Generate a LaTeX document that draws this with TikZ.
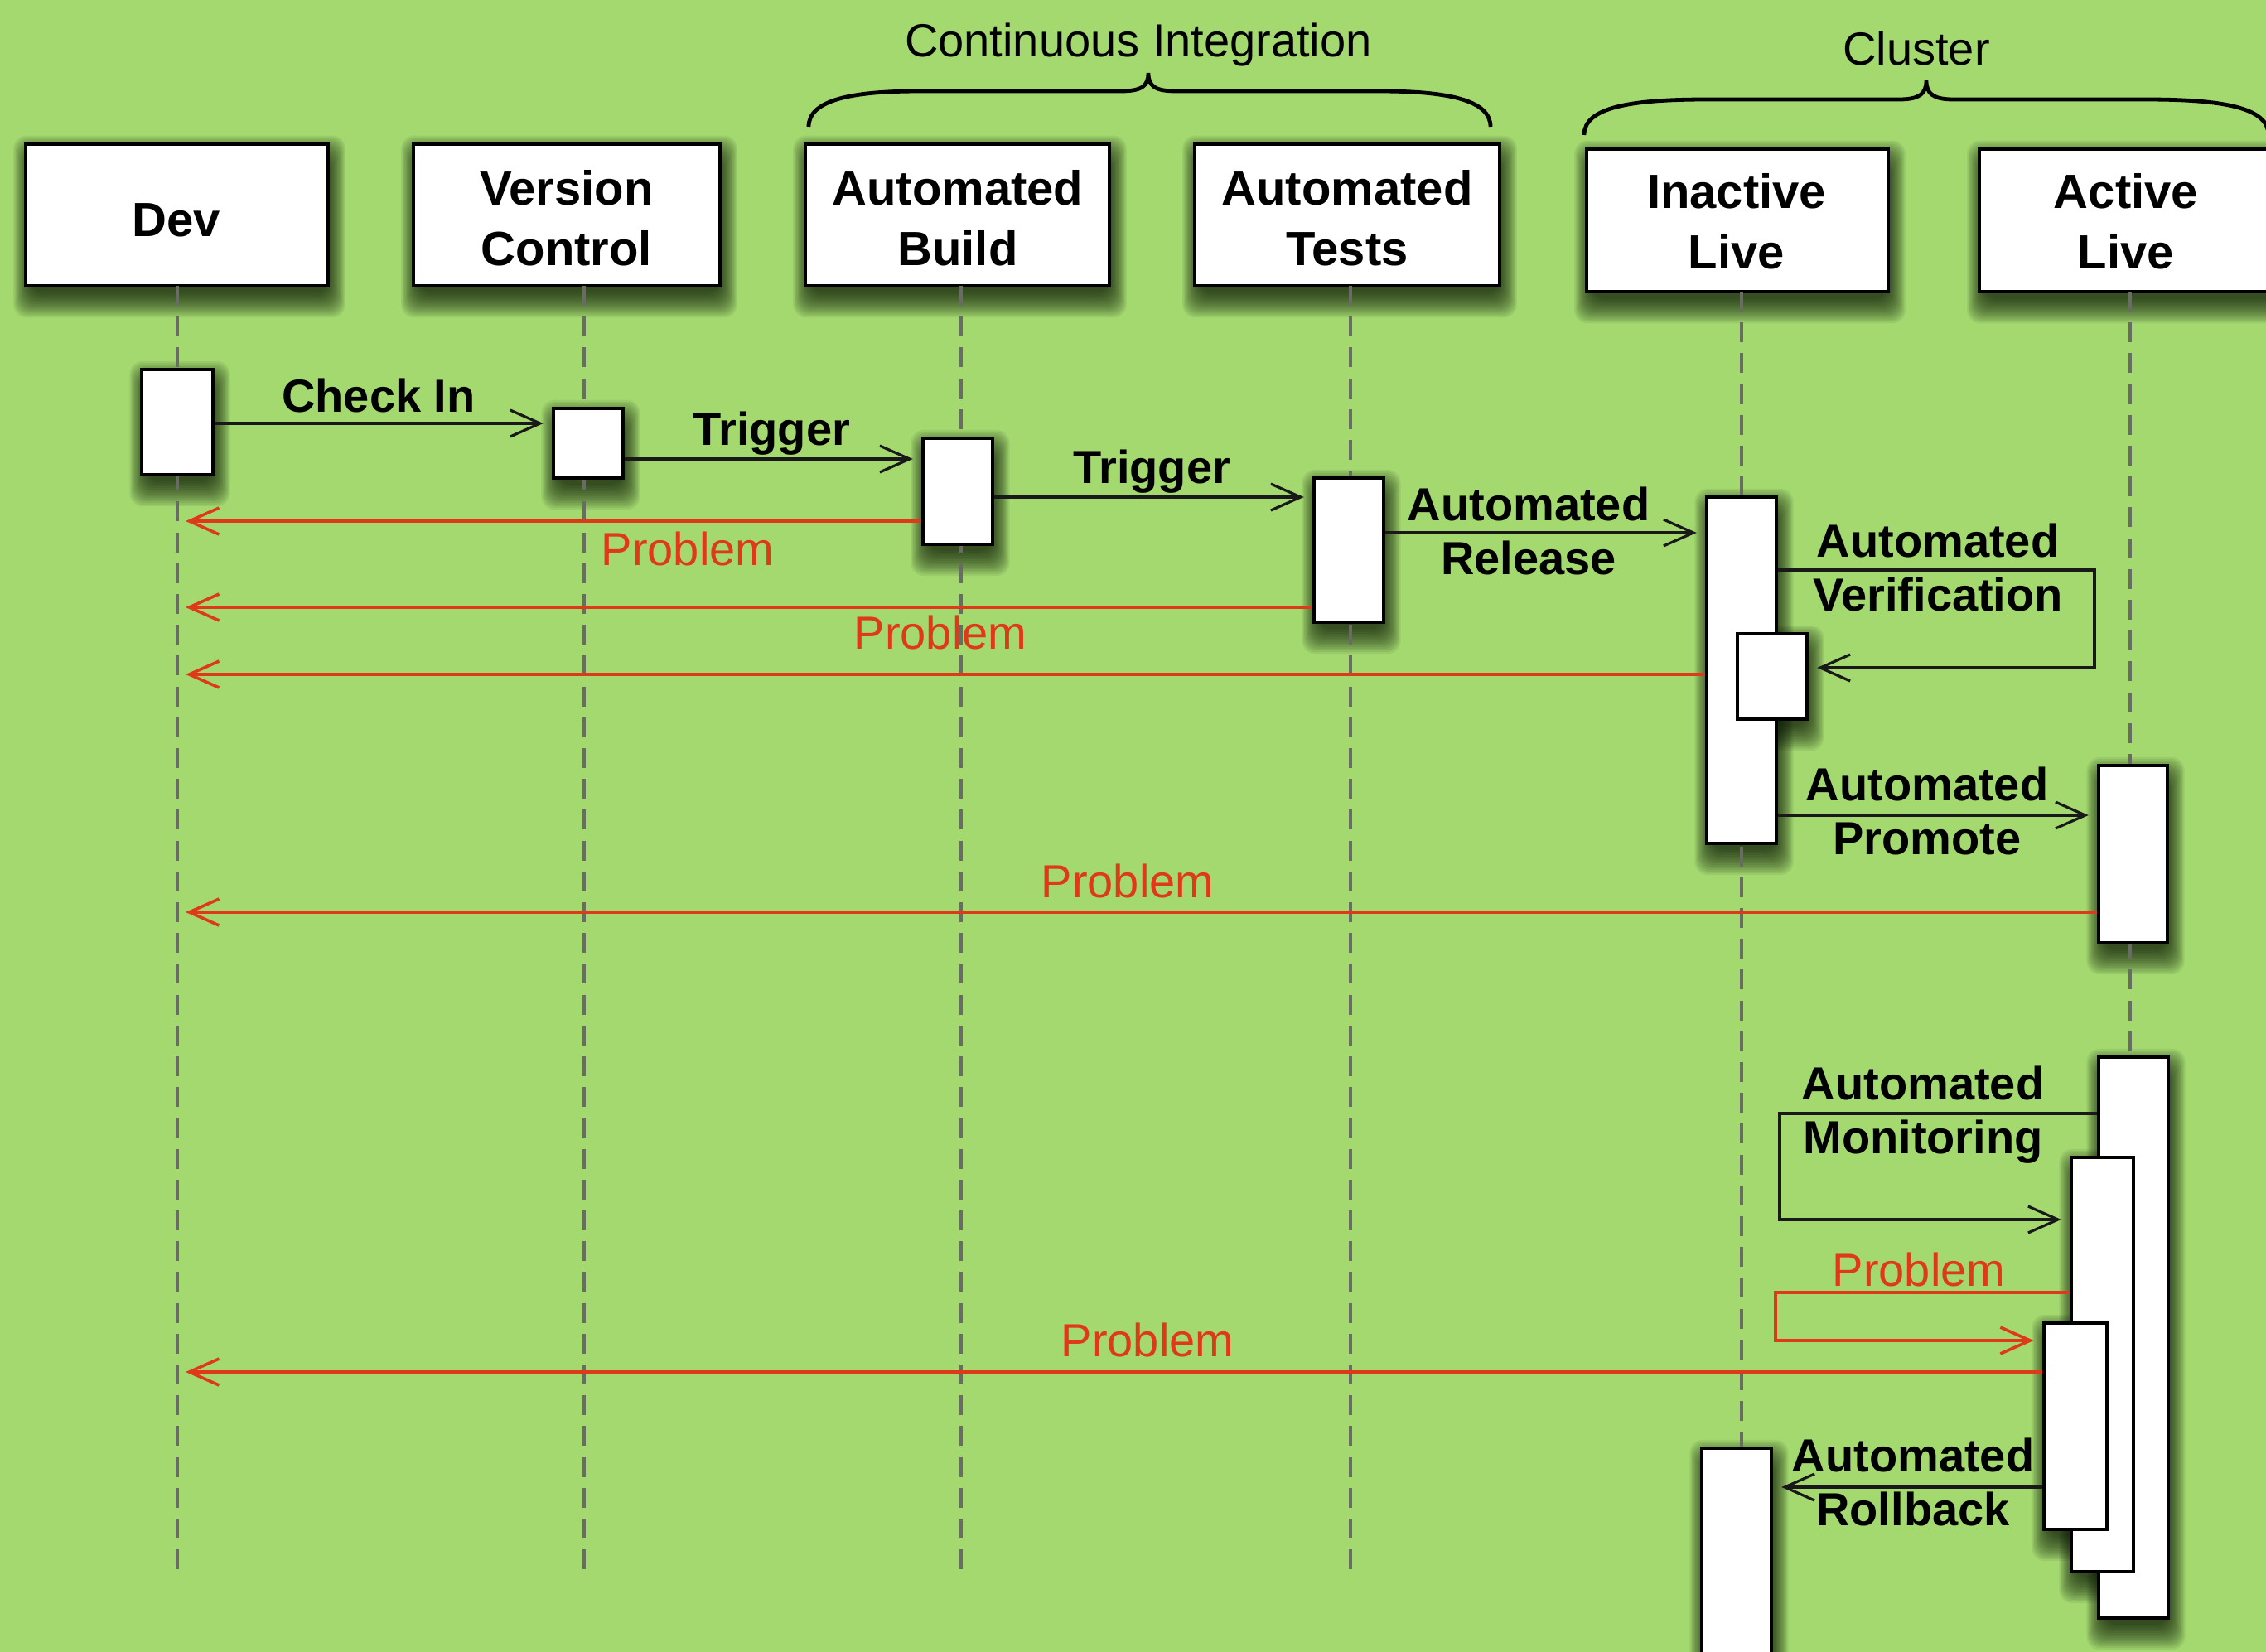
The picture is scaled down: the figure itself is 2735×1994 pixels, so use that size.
\documentclass[tikz,border=0pt]{standalone}
\usepackage{fontspec}
\setmainfont{Liberation Sans}
\usetikzlibrary{arrows.meta,calc,fit}

\definecolor{bggreen}{RGB}{164,217,112}
\definecolor{probred}{RGB}{222,58,26}
\definecolor{lifegray}{RGB}{105,108,100}
\definecolor{shadowtone}{RGB}{10,22,5}

\newcommand{\hdrfont}{\fontsize{14.5}{18.25}\selectfont\bfseries}
\newcommand{\msgfont}{\fontsize{14}{16.25}\selectfont\bfseries}
\newcommand{\plainfont}{\fontsize{14}{16.25}\selectfont}
\newcommand{\twoline}[2]{\begin{tabular}[t]{@{}c@{}}#1\\#2\end{tabular}}

\pgfdeclarelayer{bg}
\pgfdeclarelayer{shadow}
\pgfsetlayers{bg,shadow,main}

% soft drop shadow built from stacked translucent rectangles
\newcommand{\dropshadow}[1]{%
  \begin{pgfonlayer}{shadow}
    \foreach \e in {-8,-6,...,22}{
      \fill[shadowtone, opacity=0.072, rounded corners=4pt]
        ($(#1.north west)+({3-0.7*(\e)},{14-(\e)})$) rectangle
        ($(#1.south east)+({3+0.7*(\e)},{14+(\e)})$);
    }
  \end{pgfonlayer}}

\tikzset{
  header/.style={rectangle, draw=black, line width=1.2pt, fill=white, inner sep=0pt},
  act/.style={rectangle, draw=black, line width=1.1pt, fill=white, inner sep=0pt},
  hdrtext/.style={anchor=base, inner sep=0pt, font=\hdrfont},
  msglabel/.style={anchor=base, inner sep=0pt, font=\msgfont},
  problabel/.style={anchor=base, inner sep=0pt, font=\plainfont, text=probred},
  grouplabel/.style={anchor=base, inner sep=0pt, font=\plainfont},
  msg/.style={draw=black!90, line width=0.8pt,
      -{Straight Barb[length=9pt,width=8pt]}, shorten >=2.5pt},
  prob/.style={msg, draw=probred, line width=0.9pt},
  lifeline/.style={draw=lifegray, line width=0.8pt, dash pattern=on 6pt off 3.3pt},
  brace/.style={draw=black, line width=1.2pt},
}

\begin{document}
\begin{tikzpicture}[x=0.25pt, y=-0.25pt]
\begin{pgfonlayer}{bg}
  \fill[bggreen] (0,0) rectangle (2735,1994);
\end{pgfonlayer}
\useasboundingbox (0,0) rectangle (2735,1994);
\clip (0,0) rectangle (2735,1994);

% group braces and their titles
\draw[brace] (976,153) .. controls (976,120) and (1030,110) .. (1110,110)
  -- (1352,110) .. controls (1378,110) and (1386,104) .. (1386,88)
  .. controls (1386,104) and (1394,110) .. (1420,110)
  -- (1665,110) .. controls (1745,110) and (1799,120) .. (1799,153);
\draw[brace] (1912,163) .. controls (1912,130) and (1966,120) .. (2060,120)
  -- (2292,120) .. controls (2317,120) and (2325,113) .. (2325,97)
  .. controls (2325,113) and (2333,120) .. (2358,120)
  -- (2590,120) .. controls (2684,120) and (2738,130) .. (2738,163);
\node[grouplabel] (ci) at (1374,68) {Continuous Integration};
\node[grouplabel] (cluster) at (2313,78) {Cluster};

% participant headers
\node[header, fit={(31,174) (396,345)}] (dev) {};
\node[header, fit={(499,174) (869,345)}] (vc) {};
\node[header, fit={(972,174) (1339,345)}] (ab) {};
\node[header, fit={(1442,174) (1810,345)}] (at) {};
\node[header, fit={(1915,180) (2279,352)}] (il) {};
\node[header, fit={(2389,180) (2755,352)}] (al) {};

\node[hdrtext] (devtxt) at (213,285) {Dev};
\node[hdrtext] (vctxt) at (684,247) {\twoline{Version}{Control}};
\node[hdrtext] (abtxt) at (1156,247) {\twoline{Automated}{Build}};
\node[hdrtext] (attxt) at (1626,247) {\twoline{Automated}{Tests}};
\node[hdrtext] (iltxt) at (2096,251) {\twoline{Inactive}{Live}};
\node[hdrtext] (altxt) at (2566,251) {\twoline{Active}{Live}};

% lifelines
\coordinate (devtop) at (214,345);  \coordinate (devbot) at (214,1896);
\coordinate (vctop)  at (705,345);  \coordinate (vcbot)  at (705,1896);
\coordinate (abtop)  at (1160,345); \coordinate (abbot)  at (1160,1896);
\coordinate (attop)  at (1630,345); \coordinate (atbot)  at (1630,1896);
\coordinate (iltop)  at (2102,352); \coordinate (ilbot)  at (2102,1896);
\coordinate (altop)  at (2571,352); \coordinate (albot)  at (2571,1896);
\foreach \p in {dev,vc,ab,at,il,al}
  \draw[lifeline] (\p top) -- (\p bot);

% activation bars
\node[act, fit={(171,446) (257,573)}] (a1) {};
\node[act, fit={(668,493) (752,577)}] (a2) {};
\node[act, fit={(1114,529) (1198,657)}] (a3) {};
\node[act, fit={(1586,577) (1670,751)}] (a4) {};
\node[act, fit={(2060,600) (2144,1018)}] (a5) {};
\node[act, fit={(2097,765) (2181,868)}] (a6) {};
\node[act, fit={(2533,924) (2616,1138)}] (a7) {};
\node[act, fit={(2533,1276) (2617,1953)}] (a8) {};
\node[act, fit={(2500,1397) (2575,1897)}] (a9) {};
\node[act, fit={(2467,1597) (2543,1846)}] (a10) {};
\node[act, fit={(2054,1748) (2138,2030)}] (a11) {};

% drop shadows under every box
\foreach \b in {dev,vc,ab,at,il,al,a1,a2,a3,a4,a5,a6,a7,a8,a9,a10,a11}
  {\dropshadow{\b}}

% messages
\draw[msg]  (a1.east |- 0,511) -- (a2.west |- 0,511);
\draw[msg]  (a2.east |- 0,554) -- (a3.west |- 0,554);
\draw[msg]  (a3.east |- 0,600) -- (a4.west |- 0,600);
\draw[prob] (a3.west |- 0,629) -- (devtop |- 0,629);
\draw[msg]  (a4.east |- 0,643) -- (a5.west |- 0,643);
\draw[prob] (a4.west |- 0,733) -- (devtop |- 0,733);
\draw[msg]  (a5.east |- 0,688) -| (2528,806) -- (a6.east |- 0,806);
\draw[prob] (a5.west |- 0,814) -- (devtop |- 0,814);
\draw[msg]  (a5.east |- 0,984) -- (a7.west |- 0,984);
\draw[prob] (a7.west |- 0,1101) -- (devtop |- 0,1101);
\draw[msg]  (a8.west |- 0,1344) -| (2148,1472) -- (a9.west |- 0,1472);
\draw[prob] (a9.west |- 0,1560) -| (2143,1618) -- (a10.west |- 0,1618);
\draw[prob] (a10.west |- 0,1656) -- (devtop |- 0,1656);
\draw[msg]  (a10.west |- 0,1795) -- (a11.east |- 0,1795);

% message labels
\node[msglabel]  (lcheckin)  at (457,497)  {Check In};
\node[msglabel]  (ltrigA)    at (931,537)  {Trigger};
\node[msglabel]  (ltrigB)    at (1390,583) {Trigger};
\node[problabel] (lprobA)    at (830,682)  {Problem};
\node[msglabel]  (lrelease)  at (1845,628) {\twoline{Automated}{Release}};
\node[problabel] (lprobB)    at (1135,783) {Problem};
\node[msglabel]  (lverif)    at (2339,672) {\twoline{Automated}{Verification}};
\node[msglabel]  (lpromote)  at (2326,966) {\twoline{Automated}{Promote}};
\node[problabel] (lprobC)    at (1361,1083) {Problem};
\node[msglabel]  (lmonitor)  at (2321,1327) {\twoline{Automated}{Monitoring}};
\node[problabel] (lprobD)    at (2316,1552) {Problem};
\node[problabel] (lprobE)    at (1385,1637) {Problem};
\node[msglabel]  (lrollback) at (2309,1776) {\twoline{Automated}{Rollback}};
\end{tikzpicture}
\end{document}
